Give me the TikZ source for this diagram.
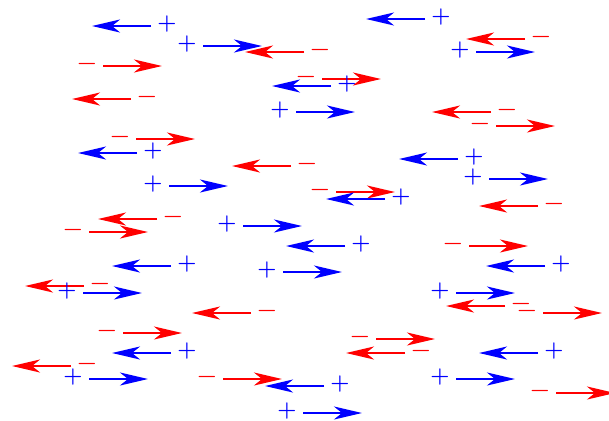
\documentclass[tikz,border=0pt]{standalone}
\usetikzlibrary{arrows.meta}
\definecolor{qblue}{RGB}{0,0,255}
\definecolor{qred}{RGB}{255,0,0}
\tikzset{
  posvec/.style={draw=qblue,line width=2.2bp,-{Stealth[length=28bp,width=13bp,inset=8bp]}},
  negvec/.style={draw=qred,line width=2.2bp,-{Stealth[length=28bp,width=13bp,inset=8bp]}},
  possign/.style={text=qblue,font=\fontsize{22}{22}\selectfont\bfseries,inner sep=0pt,anchor=base},
  negsign/.style={text=qred,font=\fontsize{22}{22}\selectfont\bfseries,inner sep=0pt,anchor=base},
}
% name, x of sign, y of arrow, direction (1 right, -1 left)
% the sign's centre (math axis, 0.25em above its baseline) sits just above the arrow
\newcommand\posq[4]{%
  \coordinate (#1s) at (#2+#4*16,#3);
  \coordinate (#1e) at (#2+#4*75,#3);
  \draw[posvec] (#1s) -- (#1e);
  \node[possign] (#1) at (#2,#3+3.5) {+};
}
\newcommand\negq[4]{%
  \coordinate (#1s) at (#2+#4*16,#3);
  \coordinate (#1e) at (#2+#4*75,#3);
  \draw[negvec] (#1s) -- (#1e);
  \node[negsign] (#1) at (#2,#3+3) {\symbol{"2212}};
}
\begin{document}
\begin{tikzpicture}[x=1bp,y=-1bp]
\clip (0,0) rectangle (609,420);
\fill[white] (0,0) rectangle (609,420);
% negative charges
\negq{n1}{87}{66}{1}
\negq{n2}{147}{99}{-1}
\negq{n3}{320}{52}{-1}
\negq{n4}{306}{79}{1}
\negq{n5}{120}{139}{1}
\negq{n6}{541}{39}{-1}
\negq{n7}{507}{112}{-1}
\negq{n8}{480}{126}{1}
\negq{n9}{307}{166}{-1}
\negq{n10}{173}{219}{-1}
\negq{n11}{73}{232}{1}
\negq{n12}{320}{192}{1}
\negq{n13}{554}{206}{-1}
\negq{n14}{453}{246}{1}
\negq{n15}{100}{286}{-1}
\negq{n16}{267}{313}{-1}
\negq{n17}{107}{333}{1}
\negq{n18}{87}{366}{-1}
\negq{n19}{207}{379}{1}
\negq{n20}{521}{306}{-1}
\negq{n21}{527}{313}{1}
\negq{n22}{360}{339}{1}
\negq{n23}{421}{353}{-1}
\negq{n24}{540}{393}{1}
% positive charges
\posq{p1}{167}{26}{-1}
\posq{p2}{187}{46}{1}
\posq{p3}{347}{86}{-1}
\posq{p4}{280}{112}{1}
\posq{p5}{441}{19}{-1}
\posq{p6}{460}{52}{1}
\posq{p7}{153}{153}{-1}
\posq{p8}{153}{186}{1}
\posq{p9}{474}{159}{-1}
\posq{p10}{473}{179}{1}
\posq{p11}{401}{199}{-1}
\posq{p12}{227}{226}{1}
\posq{p13}{361}{246}{-1}
\posq{p14}{187}{266}{-1}
\posq{p15}{267}{272}{1}
\posq{p16}{561}{266}{-1}
\posq{p17}{67}{293}{1}
\posq{p18}{187}{353}{-1}
\posq{p19}{73}{379}{1}
\posq{p20}{340}{386}{-1}
\posq{p21}{287}{413}{1}
\posq{p22}{440}{293}{1}
\posq{p23}{554}{353}{-1}
\posq{p24}{440}{379}{1}
\end{tikzpicture}
\end{document}
